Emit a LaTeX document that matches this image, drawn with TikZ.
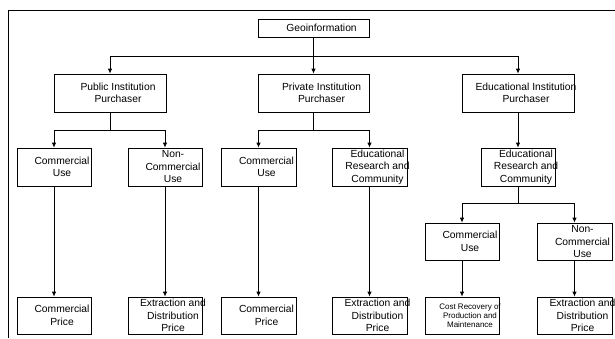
\documentclass[tikz,border=0pt]{standalone}
\usepackage{fontspec}
\setmainfont{Liberation Sans}
\usetikzlibrary{arrows.meta}

\tikzset{
  txt/.style={align=center, font=\fontsize{10.3}{12.5}\selectfont},
  box/.style={draw, line width=0.8pt, minimum width=74pt, minimum height=38pt, inner sep=0pt,
    label={[txt, xshift=8pt]center:#1}},
  smallbox/.style={draw, line width=0.8pt, minimum width=74pt, minimum height=37pt, inner sep=0pt,
    label={[align=center, font=\fontsize{8}{9.3}\selectfont, xshift=8pt]center:#1}},
  arr/.style={-{Latex[length=5pt,width=4.5pt]}, line width=0.8pt},
}

\begin{document}
\begin{tikzpicture}[x=1pt, y=-1pt]
  \useasboundingbox (0,0) rectangle (615,338);
  % frame
  \draw[line width=0.8pt] (8,338) -- (8,10) -- (615,10);

  % top
  \node[box={Geoinformation}, minimum width=111pt, minimum height=18pt] (geo) at (313.5,28) {};

  % purchasers
  \node[box={Public Institution\\Purchaser}, minimum width=112pt] (pub) at (110,93) {};
  \node[box={Private Institution\\Purchaser}, minimum width=111pt] (priv) at (313.5,93) {};
  \node[box={Educational Institution\\Purchaser}, minimum width=112pt] (edu) at (518,93) {};

  % uses
  \node[box={Commercial\\Use}] (pubC) at (54,167) {};
  \node[box={Non-\\Commercial\\Use}] (pubN) at (165,167) {};
  \node[box={Commercial\\Use}, minimum width=75pt] (privC) at (258.5,167) {};
  \node[box={Educational\\Research and\\Community}, minimum width=75pt] (privE) at (369.5,167) {};
  \node[box={Educational\\Research and\\Community}] (eduR) at (518,167) {};
  \node[box={Commercial\\Use}, minimum height=37pt] (eduC) at (462,241.5) {};
  \node[box={Non-\\Commercial\\Use}, minimum width=75pt, minimum height=37pt] (eduN) at (574.5,241.5) {};

  % prices
  \node[box={Commercial\\Price}, minimum height=37pt] (pubCP) at (54,315.5) {};
  \node[box={Extraction and\\Distribution\\Price}, minimum height=37pt] (pubNP) at (165,315.5) {};
  \node[box={Commercial\\Price}, minimum width=75pt, minimum height=37pt] (privCP) at (258.5,315.5) {};
  \node[box={Extraction and\\Distribution\\Price}, minimum width=75pt, minimum height=37pt] (privEP) at (369.5,315.5) {};
  \node[smallbox={Cost Recovery of\\Production and\\Maintenance}] (eduCP) at (462,315.5) {};
  \node[box={Extraction and\\Distribution\\Price}, minimum width=75pt, minimum height=37pt] (eduNP) at (574.5,315.5) {};

  % connectors
  \draw[arr] (geo.south) -- (priv.north);
  \draw[arr] (geo.south) -- ++(0,19) -| (pub.north);
  \draw[arr] (geo.south) -- ++(0,19) -| (edu.north);

  \draw[arr] (pub.south) -- ++(0,18) -| (pubC.north);
  \draw[arr] (pub.south) -- ++(0,18) -| (pubN.north);
  \draw[arr] (priv.south) -- ++(0,18) -| (privC.north);
  \draw[arr] (priv.south) -- ++(0,18) -| (privE.north);
  \draw[arr] (edu.south) -- (eduR.north);
  \draw[arr] (eduR.south) -- ++(0,17) -| (eduC.north);
  \draw[arr] (eduR.south) -- ++(0,17) -| (eduN.north);

  \draw[arr] (pubC.south) -- (pubCP.north);
  \draw[arr] (pubN.south) -- (pubNP.north);
  \draw[arr] (privC.south) -- (privCP.north);
  \draw[arr] (privE.south) -- (privEP.north);
  \draw[arr] (eduC.south) -- (eduCP.north);
  \draw[arr] (eduN.south) -- (eduNP.north);
\end{tikzpicture}
\end{document}
